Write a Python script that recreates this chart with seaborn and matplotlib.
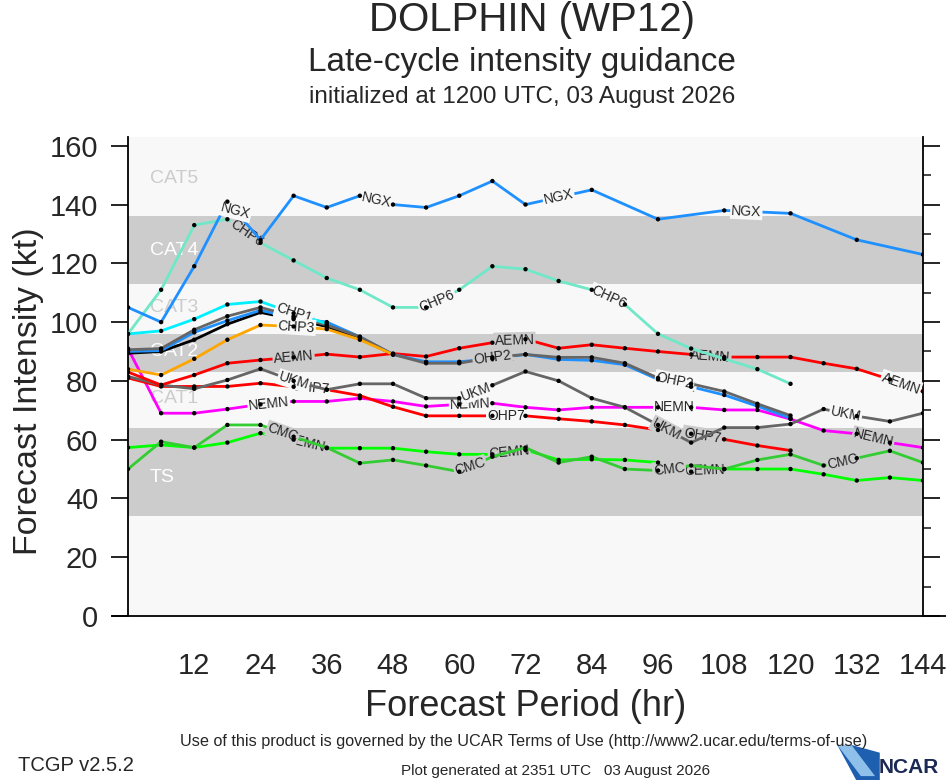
#!/usr/bin/env python
"""Late-cycle intensity guidance plot for DOLPHIN (WP12)"""
import numpy as np
import pandas as pd
import matplotlib
matplotlib.use('Agg')
import matplotlib.pyplot as plt
import matplotlib.patches as mpatches
import seaborn as sns

#BEGIN DATA

HOURS = list(range(0, 145, 6))

ngx_hr = [0, 6, 12, 18, 24, 30, 36, 42, 48, 54, 60, 66, 72, 84, 96, 108, 120, 132, 144]
ngx_kt = [105, 100, 119, 141, 128, 143, 139, 143, 140, 139, 143, 148, 140, 145, 135, 138, 137, 128, 123]

chp6_hr = HOURS[:21]
chp6_kt = [96, 111, 133, 135, 127, 121, 115, 111, 105, 105, 111, 119, 118, 114, 111, 106, 96, 91, 87.5, 84, 79]

chp1_hr = HOURS[:7]
chp1_kt = [96, 97, 101, 106, 107, 103, 99.5]

ohp2_hr = HOURS[:21]
ohp2_kt = [90.6, 91, 97.4, 102, 105, 102, 99, 95, 89, 86, 86, 88, 89, 88, 88, 86, 81, 79, 76.4, 72.2, 68.2]

chp2_hr = HOURS[:21]
chp2_kt = [90, 90.3, 96.5, 100.5, 104, 101.5, 100, 95, 89, 86.5, 86.5, 87.5, 89, 87.3, 87, 85.5, 80.5, 78, 75.2, 71.4, 67.3]

ohp1_hr = HOURS[:9]
ohp1_kt = [89.4, 90, 94, 99.3, 103.3, 101, 98.5, 94.5, 89]

chp3_hr = HOURS[:9]
chp3_kt = [84, 82, 87.5, 94, 99, 98.5, 97.6, 94, 89]

aemn_hr = HOURS
aemn_kt = [83, 78.6, 82, 86, 87.1, 88, 89.1, 88.1, 89.3, 88.3, 91.1, 93, 94.2, 91.1, 92.3, 91.1,
           90, 89, 88.1, 88.1, 88.1, 86, 84.1, 80.5, 76.4]

ukm_hr = HOURS
ukm_kt = [81.5, 78.6, 77.3, 80.3, 84.1, 80, 77, 79, 79, 74.1, 74.1, 78.5, 83.2, 80, 74.1, 71,
          65, 59, 64.1, 64.1, 65.3, 70.4, 68, 66.2, 69]

ohp7_hr = HOURS[:21]
ohp7_kt = [81, 78.1, 78.1, 78.1, 79.2, 78, 77, 75, 71.2, 68.1, 68.1, 68.1, 68.1, 67.1, 66.2, 65,
           63.3, 62, 60.1, 58, 56.3]

nemn_hr = HOURS
nemn_kt = [91, 69, 69, 70.4, 72, 73, 73, 74.1, 73, 71.3, 72, 72.4, 71, 70.1, 71, 71,
           71, 71, 70.1, 70.1, 67, 63.1, 62, 59, 57.3]

cmc_hr = HOURS
cmc_kt = [50, 59.3, 57.3, 65, 65, 61, 57.3, 52, 53.1, 51.2, 49.1, 54.2, 57.3, 52.2, 54.2, 50,
          49.5, 51.2, 50, 53.1, 55, 51.2, 53.7, 56.2, 52.2]

cemn_hr = HOURS
cemn_kt = [57.3, 58.2, 57.3, 59, 62.2, 60, 57.1, 57.1, 57.1, 55.9, 55, 55, 56.5, 53.1, 53.3, 53.1,
           52.2, 49.1, 50, 50, 50, 48.2, 46.1, 47.1, 46.1]

# name, hours, intensities, colour, hours where the line label sits
MODELS = [
    ('CEMN', cemn_hr, cemn_kt, '#00ff00', [32, 69, 104.5]),
    ('CMC', cmc_hr, cmc_kt, '#33cc33', [28, 62, 98, 129.5]),
    ('NEMN', nemn_hr, nemn_kt, '#ff00ff', [25.5, 62, 99, 135]),
    ('OHP7', ohp7_hr, ohp7_kt, '#ff0000', [33, 68.5, 104]),
    ('UKM', ukm_hr, ukm_kt, '#666666', [30, 63, 97.5, 130]),
    ('AEMN', aemn_hr, aemn_kt, '#ff0000', [30, 70, 105.5, 140]),
    ('OHP1', ohp1_hr, ohp1_kt, '#000000', [30]),
    ('CHP2', chp2_hr, chp2_kt, '#1e90ff', [30.5, 66.5, 99.5]),
    ('OHP2', ohp2_hr, ohp2_kt, '#666666', [30, 66, 99]),
    ('CHP1', chp1_hr, chp1_kt, '#00f0ff', [30]),
    ('CHP3', chp3_hr, chp3_kt, '#ffa500', [30.5]),
    ('CHP6', chp6_hr, chp6_kt, '#70e8c8', [21.5, 56, 87]),
    ('NGX', ngx_hr, ngx_kt, '#1e90ff', [19.5, 45, 78, 112]),
]

# intensity bands (gray ones) and category text
GRAY_BANDS = [(34, 64), (83, 96), (113, 136)]
CAT_NAMES = ['CAT5', 'CAT4', 'CAT3', 'CAT2', 'CAT1', 'TS']
CAT_KT = [149, 124.5, 105, 90, 74, 47]
CAT_COLORS = ['#cccccc', 'white', '#cccccc', 'white', '#cccccc', 'white']

XTICKS = list(range(12, 145, 12))
YTICKS = list(range(0, 161, 20))

#END DATA
#BEGIN PLOTTING

sns.set_style('white')
plt.rcParams['font.family'] = ['Liberation Sans', 'DejaVu Sans']

BG = '#f8f8f8'
BAND = '#cccccc'


def band_color(kt):
    for lo, hi in GRAY_BANDS:
        if lo <= kt < hi:
            return BAND
    return BG


fig = plt.figure(figsize=(9.46, 7.8), dpi=100)
ax = fig.add_axes([0.1353, 0.2103, 0.8404, 0.6141])
ax.set_facecolor(BG)
ax.set_xlim(0, 144)
ax.set_ylim(0, 163)

for lo, hi in GRAY_BANDS:
    ax.axhspan(lo, hi, color=BAND, zorder=0, lw=0)
for name, kt, col in zip(CAT_NAMES, CAT_KT, CAT_COLORS):
    ax.text(3.9, kt, name, color=col, fontsize=14, va='center', ha='left', zorder=1)

dfs = []
for i, (name, hr, kt, col, lab_hr) in enumerate(MODELS):
    d = pd.DataFrame({'Hour': hr, 'Intensity': kt, 'Model': name})
    dfs.append(d)
    z = 3 + 2 * i
    sns.lineplot(data=d, x='Hour', y='Intensity', color=col, lw=2.0, ax=ax, zorder=z,
                 legend=False)
    for h in lab_hr:
        y = np.interp(h, hr, kt)
        p1 = ax.transData.transform((h - 3.5, np.interp(h - 3.5, hr, kt)))
        p2 = ax.transData.transform((h + 3.5, np.interp(h + 3.5, hr, kt)))
        ang = np.degrees(np.arctan2(p2[1] - p1[1], p2[0] - p1[0]))
        ax.text(h, y, name, rotation=ang, rotation_mode='anchor', ha='center', va='center',
                fontsize=10, zorder=z + 1,
                bbox=dict(boxstyle='square,pad=0.08', fc=band_color(y), ec='none'))

allpts = pd.concat(dfs)
sns.scatterplot(data=allpts, x='Hour', y='Intensity', color='black', s=10, edgecolor='none',
                ax=ax, zorder=50, legend=False)

ax.set_xticks(XTICKS)
ax.set_yticks(YTICKS)
ax.set_yticks(range(10, 161, 20), minor=True)
ax.tick_params(axis='both', labelsize=21, direction='out', length=12, width=1.2, color='black')
ax.tick_params(axis='y', which='minor', direction='out', length=6, width=1.2, right=True)
ax.tick_params(axis='y', which='major', right=True, left=True)
ax.tick_params(axis='x', pad=14)
ax.tick_params(axis='y', pad=9.5)
for s in ['left', 'right', 'bottom']:
    ax.spines[s].set_color('black')
    ax.spines[s].set_linewidth(1.3)
ax.spines['top'].set_visible(False)
ax.spines['bottom'].set_visible(False)
ax.plot([-0.02, 1.03], [0, 0], transform=ax.transAxes, color='black', lw=1.3, clip_on=False,
        zorder=60)

ax.set_xlabel('Forecast Period (hr)', fontsize=26)
ax.set_ylabel('Forecast Intensity (kt)', fontsize=24.5)
ax.xaxis.set_label_coords(0.5, -0.152)
ax.yaxis.set_label_coords(-0.106, 0.47)

fig.text(0.562, 0.974, 'DOLPHIN (WP12)', fontsize=29, ha='center', va='center')
fig.text(0.552, 0.920, 'Late-cycle intensity guidance', fontsize=24, ha='center', va='center')
fig.text(0.552, 0.875, 'initialized at 1200 UTC, 03 August 2026', fontsize=17.5,
         ha='center', va='center')

narrow = ['Liberation Sans Narrow', 'Liberation Sans', 'DejaVu Sans']
fig.text(0.553, 0.049, 'Use of this product is governed by the UCAR Terms of Use '
         '(http://www2.ucar.edu/terms-of-use)', fontsize=11.7, ha='center', va='center',
         family=narrow)
fig.text(0.019, 0.019, 'TCGP v2.5.2', fontsize=14.5, ha='left', va='center', family=narrow)
fig.text(0.587, 0.0115, 'Plot generated at 2351 UTC   03 August 2026', fontsize=11,
         ha='center', va='center', family=narrow)

# NCAR logo
fig.patches.append(mpatches.Polygon([[0.905, 0.0], [0.930, 0.0], [0.930, 0.035], [0.900, 0.045],
                                     [0.885, 0.045]], closed=True, fc='#1f5fb0', ec='none',
                                    transform=fig.transFigure))
fig.patches.append(mpatches.Polygon([[0.885, 0.045], [0.900, 0.045], [0.925, 0.005],
                                     [0.910, 0.005]], closed=True, fc='#8fc0ea', ec='none',
                                    transform=fig.transFigure))
fig.text(0.929, 0.016, 'NCAR', fontsize=15, ha='left', va='center', color='#1b2a55',
         weight='bold', family=narrow)

fig.savefig('out.png', dpi=100, facecolor='white')

#END PLOTTING
